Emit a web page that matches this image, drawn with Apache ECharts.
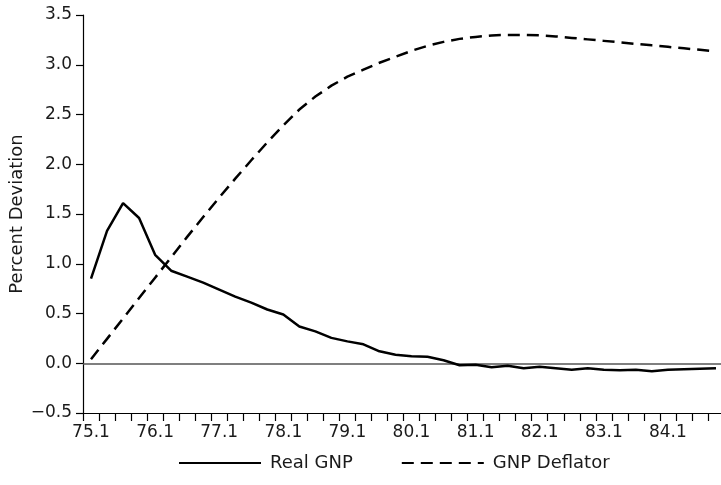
<!DOCTYPE html>
<html>
<head>
<meta charset="utf-8">
<script src="https://cdn.jsdelivr.net/npm/echarts@6/dist/echarts.min.js"></script>
<style>
  html, body { margin: 0; padding: 0; background: #fff; }
  #chart { width: 721px; height: 485px; }
</style>
</head>
<body>
<div id="chart"></div>
<script>
// Quarterly periods, 1975:1 through 1984:4
const quarters = [
  '75.1','75.2','75.3','75.4','76.1','76.2','76.3','76.4',
  '77.1','77.2','77.3','77.4','78.1','78.2','78.3','78.4',
  '79.1','79.2','79.3','79.4','80.1','80.2','80.3','80.4',
  '81.1','81.2','81.3','81.4','82.1','82.2','82.3','82.4',
  '83.1','83.2','83.3','83.4','84.1','84.2','84.3','84.4'
];

// Percent deviation of real GNP from baseline
const realGNP = [
  0.85, 1.33, 1.61, 1.46, 1.09, 0.93, 0.87, 0.81,
  0.74, 0.67, 0.61, 0.54, 0.49, 0.37, 0.32, 0.255,
  0.22, 0.19, 0.12, 0.085, 0.07, 0.065, 0.03, -0.02,
  -0.015, -0.04, -0.025, -0.05, -0.035, -0.05, -0.065, -0.05,
  -0.065, -0.07, -0.065, -0.08, -0.065, -0.06, -0.055, -0.05
];

// Percent deviation of the GNP deflator from baseline
const gnpDeflator = [
  0.04, 0.245, 0.45, 0.655, 0.86, 1.065, 1.27, 1.47,
  1.665, 1.855, 2.04, 2.22, 2.39, 2.55, 2.68, 2.79,
  2.88, 2.95, 3.02, 3.08, 3.14, 3.19, 3.23, 3.26,
  3.28, 3.295, 3.30, 3.30, 3.295, 3.285, 3.27, 3.255,
  3.24, 3.225, 3.21, 3.195, 3.18, 3.165, 3.15, 3.135
];

const yTicks = { min: -0.5, max: 3.5, step: 0.5 };

const FONT = '"DejaVu Sans", sans-serif';
const TEXT = '#1a1a1a';
const chart = echarts.init(document.getElementById('chart'), null, { renderer: 'canvas' });

chart.setOption({
  animation: false,
  backgroundColor: '#fff',
  textStyle: { fontFamily: FONT },
  grid: {
    left: 83, right: -3, top: 15, bottom: 72,
    containLabel: false,
    outerBoundsMode: 'none'
  },
  legend: {
    bottom: 13,
    left: 178,
    padding: 0,
    itemWidth: 82,
    itemHeight: 12,
    itemGap: 48,
    itemStyle: { opacity: 0 },
    textStyle: { fontFamily: FONT, fontSize: 18, color: TEXT, padding: [0, 0, 0, 4] },
    data: ['Real GNP', 'GNP Deflator']
  },
  xAxis: {
    type: 'category',
    data: quarters,
    boundaryGap: true,
    axisLine: { show: true, onZero: false, lineStyle: { color: '#000', width: 1.2 } },
    axisTick: { show: true, interval: 0, length: 8, lineStyle: { color: '#000', width: 1.2 } },
    axisLabel: { interval: 3, margin: 11, fontSize: 17, color: TEXT, fontFamily: FONT },
    splitLine: { show: false }
  },
  yAxis: {
    type: 'value',
    min: yTicks.min,
    max: yTicks.max,
    interval: yTicks.step,
    name: 'Percent Deviation',
    nameLocation: 'middle',
    nameRotate: 90,
    nameGap: 57,
    nameMoveOverlap: false,
    nameTextStyle: { fontSize: 18, color: TEXT, fontFamily: FONT },
    axisLine: { show: true, lineStyle: { color: '#000', width: 1.2 } },
    axisTick: { show: true, length: 7, lineStyle: { color: '#000', width: 1.2 } },
    axisLabel: {
      margin: 11, fontSize: 17, color: TEXT, fontFamily: FONT,
      formatter: v => (v < 0 ? '\u2212' + Math.abs(v).toFixed(1) : v.toFixed(1))
    },
    splitLine: { show: false }
  },
  series: [
    {
      name: 'Real GNP',
      type: 'line',
      data: realGNP,
      symbol: 'none',
      lineStyle: { color: '#000', width: 2.5, type: 'solid' },
      itemStyle: { color: '#000' },
      z: 3,
      markLine: {
        silent: true,
        symbol: 'none',
        label: { show: false },
        lineStyle: { color: '#555', width: 1.6, type: 'solid' },
        data: [{ yAxis: 0 }],
        z: 1
      }
    },
    {
      name: 'GNP Deflator',
      type: 'line',
      data: gnpDeflator,
      symbol: 'none',
      lineStyle: { color: '#000', width: 2.5, type: [12, 7] },
      itemStyle: { color: '#000' },
      z: 3
    }
  ]
});
</script>
</body>
</html>
